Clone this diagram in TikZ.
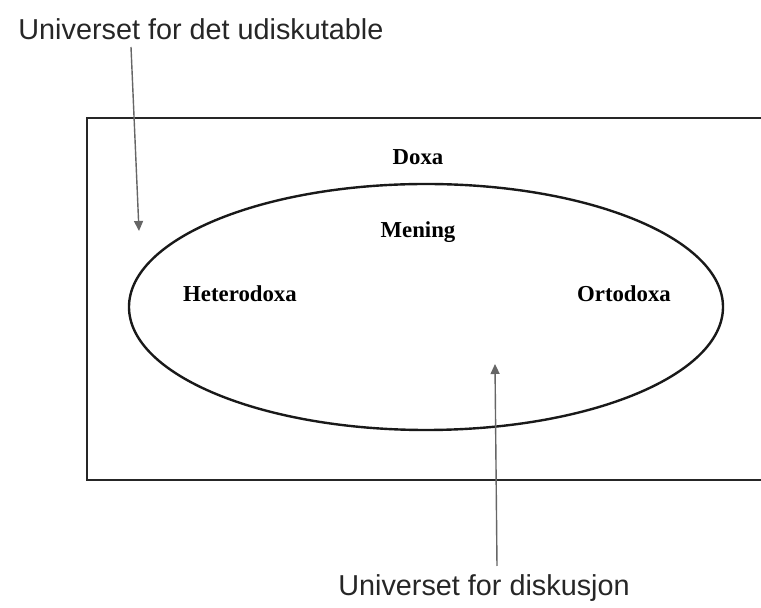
\documentclass[tikz,border=0pt]{standalone}
\usepackage{fontspec}
\setmainfont{Liberation Serif}
\setsansfont{Liberation Sans}
\usetikzlibrary{arrows.meta}
\tikzset{
  ramme/.style={line width=1pt, black!85},
  felt/.style={line width=1.2pt, black!90},
  etikett/.style={font=\fontsize{11.4}{13}\selectfont\bfseries, inner sep=0pt},
  forklaring/.style={font=\sffamily\fontsize{14.4}{17}\selectfont, inner sep=0pt, black!85},
  pil/.style={line width=0.7pt, black!60, -{Triangle[length=5pt,width=4.5pt]}}
}
\begin{document}
\begin{tikzpicture}[x=0.5pt, y=-0.5pt]
  \useasboundingbox (0,0) rectangle (761,608);
  % Universet (rammen er kuttet til hoyre)
  \draw[ramme] (765,118) -- (87,118) -- (87,480) -- (765,480);
  \draw[felt] (426,307) ellipse [x radius=297, y radius=123];
  % Etiketter
  \node[etikett] (doxa) at (418,157) {Doxa};
  \node[etikett] (mening) at (418,232) {Mening};
  \node[etikett] (hetero) at (240,294) {Heterodoxa};
  \node[etikett] (orto) at (624,294) {Ortodoxa};
  % Forklaringer med piler
  \node[forklaring, anchor=west] (udisk) at (18,29) {Universet for det udiskutable};
  \node[forklaring] (disk) at (484,588) {Universet for diskusjon};
  \coordinate (p1s) at (131,47);
  \coordinate (p1e) at (139,231);
  \coordinate (p2s) at (497,566);
  \coordinate (p2e) at (495,364);
  \draw[pil] (p1s) -- (p1e);
  \draw[pil] (p2s) -- (p2e);
\end{tikzpicture}
\end{document}
